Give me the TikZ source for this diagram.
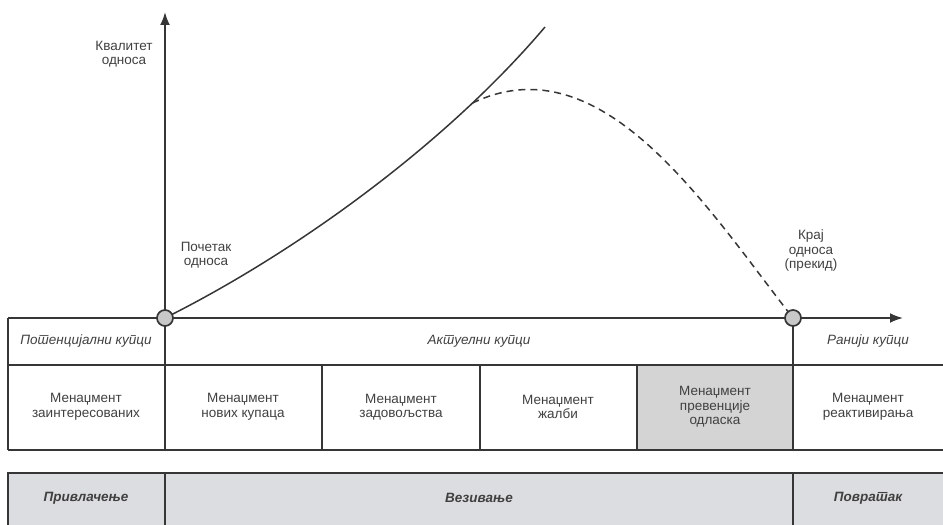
\documentclass[tikz,border=0pt]{standalone}
\usepackage{fontspec}
\setmainfont{Liberation Sans}[Script=Cyrillic,Language=Serbian]
\usetikzlibrary{arrows.meta}
\definecolor{linegray}{HTML}{363636}
\definecolor{textgray}{HTML}{404040}
\definecolor{knotgray}{HTML}{C8C8C8}
\definecolor{cellgray}{HTML}{D4D4D4}
\definecolor{bandgray}{HTML}{DCDDE0}

\begin{document}
\begin{tikzpicture}[x=1pt,y=1pt,
        lbl/.style={text=textgray, align=center, font=\fontsize{13.5}{14.5}\selectfont},
        hdr/.style={lbl, font=\fontsize{13.5}{14.5}\selectfont\itshape},
        phase/.style={lbl, font=\fontsize{13.5}{14.5}\selectfont\bfseries\itshape},
        rule/.style={draw=linegray, line width=1.6pt},
        knot/.style={circle, draw=linegray, fill=knotgray, line width=1.7pt, minimum size=16pt, inner sep=0pt}]
        \useasboundingbox (0,0) rectangle (943,525);

        % Phases band at the bottom
        \filldraw[rule, fill=bandgray] (8,52) rectangle (950,-5);
        \draw[rule] (165,52) -- (165,-5);
        \draw[rule] (793,52) -- (793,-5);
        \node[phase] (attract) at (86,27) {Привлачење};
        \node[phase] (bind) at (479,27) {Везивање};
        \node[phase] (regain) at (868,27) {Повратак};

        % Customer groups and management tasks
        \fill[cellgray] (637,75) rectangle (793,160);
        \draw[rule] (8,207) -- (165,207);
        \draw[rule] (8,207) -- (8,75);
        \draw[rule] (8,160) -- (950,160);
        \draw[rule] (8,75) -- (950,75);
        \draw[rule] (165,207) -- (165,75);
        \draw[rule] (793,207) -- (793,75);
        \draw[rule] (322,160) -- (322,75);
        \draw[rule] (480,160) -- (480,75);
        \draw[rule] (637,160) -- (637,75);
        \node[hdr] (potential) at (86,184) {Потенцијални купци};
        \node[hdr] (actual) at (479,184) {Актуелни купци};
        \node[hdr] (former) at (868,184) {Ранији купци};
        \node[lbl] (interest) at (86,118) {Менаџмент\\заинтересованих};
        \node[lbl] (newbuy) at (243,118) {Менаџмент\\нових купаца};
        \node[lbl] (satisf) at (401,118) {Менаџмент\\задовољства};
        \node[lbl] (complain) at (558,118) {Менаџмент\\жалби};
        \node[lbl] (prevent) at (715,118) {Менаџмент\\превенције\\одласка};
        \node[lbl] (reactiv) at (868,118) {Менаџмент\\реактивирања};

        % Axes
        \coordinate (o) at (165,207);
        \coordinate (ytop) at (165,513);
        \coordinate (xend) at (903,207);
        \coordinate (curvetop) at (545,498);
        \coordinate (fin) at (793,207);
        \draw[linegray, line width=2pt, -{Latex[length=13pt,width=10pt]}] (o) -- (ytop);
        \draw[linegray, line width=2pt, -{Latex[length=13pt,width=10pt]}] (o) -- (xend);
        \node[lbl] (quality) at (124,471) {Квалитет\\односа};

        % Relationship curve and its break-off
        \draw[linegray, line width=1.5pt] (o) .. controls (295,272) and (445,380) .. coordinate[pos=0.78] (split) (curvetop);
        \draw[linegray, line width=1.5pt, dash pattern=on 7pt off 5pt] (split) .. controls (603,485) and (709,314) .. (fin);

        % Start and end of the relationship
        \node[knot] (begin) at (o) {};
        \node[knot] (stop) at (fin) {};
        \node[lbl] (startlbl) at (206,270) {Почетак\\односа};
        \node[lbl] (endlbl) at (811,274) {Крај\\односа\\(прекид)};
\end{tikzpicture}
\end{document}
